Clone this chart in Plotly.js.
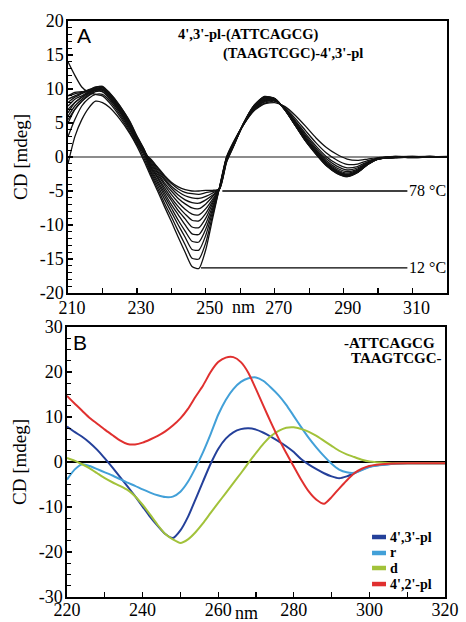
<!DOCTYPE html>
<html><head><meta charset="utf-8">
<script src="https://cdn.plot.ly/plotly-3.0.1.min.js"></script>
<style>html,body{margin:0;padding:0;background:#fff}#chart{width:466px;height:622px}</style>
</head><body><div id="chart"></div>
<script>
// ---------- Panel A: temperature series (12 °C ... 78 °C) ----------
const wlA = [210,212,214,216,218,220,222,225,228,230,232,234,236,238,240,242,244,246,248,250,252,254,256,258,261,264,267,270,273,276,279,282,285,288,291,294,297,300,305,310,315,320];
const cdA01 = [-1,3,5.5,7.2,8.2,8.0,7.3,5.6,3.4,1.6,-0.5,-2.8,-5.0,-7.3,-9.5,-11.8,-14.0,-16.1,-16.4,-13.6,-9.0,-4.4,0,2.2,4.8,6.8,7.8,8.0,7.4,6.1,4.5,2.8,1.4,0.4,-0.3,-0.5,-0.3,-0.1,0.1,0,0.1,0];
const cdA02 = [3,5.5,7.5,8.6,9.2,9.2,8.3,6.3,3.9,2.0,-0.1,-2.5,-4.6,-6.8,-8.8,-10.9,-12.9,-14.9,-15.0,-12.6,-8.5,-4.45,-0.1,2.1,4.8,6.9,7.9,8.2,7.25,5.65,3.84,2.08,0.59,-0.44,-1.08,-1.04,-0.54,-0.16,0,0.1,0,0.05];
const cdA03 = [5,7,8.2,9,9.6,9.6,8.7,6.7,4.3,2.3,0.3,-2.2,-4.2,-6.2,-8.1,-10.0,-11.8,-13.6,-13.7,-11.5,-8.0,-4.5,-0.15,2.0,4.8,7.0,8.06,8.3,7.15,5.35,3.4,1.6,0.05,-1.0,-1.6,-1.4,-0.7,-0.2,-0.1,0,0.05,0];
const cdA04 = [8,8.8,9.3,9.8,10.3,10.3,9.3,7.3,4.8,2.7,0.7,-2.0,-3.8,-5.7,-7.5,-9.3,-10.9,-12.4,-12.5,-10.6,-7.6,-4.5,-0.2,1.95,4.85,7.07,8.17,8.37,7.09,5.17,3.14,1.31,-0.27,-1.34,-1.91,-1.62,-0.8,-0.22,0,-0.1,0,0.1];
const cdA05 = [6,7.5,8.5,9.3,10,10.2,9.2,7.3,4.9,2.9,1.0,-1.7,-3.5,-5.3,-7.0,-8.5,-10.0,-11.3,-11.4,-9.8,-7.2,-4.55,-0.3,1.9,4.85,7.15,8.28,8.43,7.04,5.02,2.92,1.07,-0.54,-1.62,-2.17,-1.8,-0.88,-0.24,0.1,0,-0.05,0];
const cdA06 = [7,8,8.8,9.5,10,10,9,7.0,4.6,2.6,0.9,-1.5,-3.1,-4.9,-6.4,-7.9,-9.1,-10.3,-10.4,-9.0,-6.8,-4.55,-0.35,1.85,4.9,7.22,8.38,8.48,7.0,4.9,2.74,0.88,-0.76,-1.84,-2.38,-1.94,-0.94,-0.26,-0.1,0.05,0.1,0];
const cdA07 = [9,9.3,9.5,9.9,10.2,10.4,9.5,7.6,5.1,3.0,1.2,-1.3,-2.9,-4.5,-6.0,-7.3,-8.4,-9.3,-9.4,-8.3,-6.5,-4.6,-0.4,1.8,4.9,7.29,8.47,8.52,6.97,4.81,2.61,0.74,-0.92,-2.01,-2.54,-2.05,-0.99,-0.27,0,-0.05,0,0.05];
const cdA08 = [5.5,7,8.2,9.1,9.8,10,9.1,7.2,4.8,2.8,1.0,-1.1,-2.6,-4.1,-5.5,-6.7,-7.7,-8.4,-8.5,-7.6,-6.2,-4.6,-0.45,1.75,4.9,7.35,8.56,8.54,6.95,4.75,2.52,0.64,-1.03,-2.12,-2.64,-2.12,-1.02,-0.28,-0.05,0,0.05,0];
const cdA09 = [8.5,9,9.4,9.8,10.1,10.2,9.4,7.5,5.2,3.1,1.2,-0.9,-2.3,-3.8,-5.0,-6.1,-6.9,-7.5,-7.6,-6.9,-5.8,-4.6,-0.5,1.7,4.95,7.42,8.65,8.56,6.94,4.7,2.45,0.57,-1.11,-2.2,-2.72,-2.17,-1.04,-0.29,0.05,0.1,0,0];
const cdA10 = [7.5,8.5,9,9.6,9.9,9.9,9,7.1,4.8,2.8,1.0,-0.7,-2.1,-3.4,-4.6,-5.6,-6.3,-6.7,-6.8,-6.3,-5.6,-4.65,-0.55,1.65,4.95,7.47,8.72,8.57,6.93,4.67,2.41,0.52,-1.17,-2.26,-2.77,-2.21,-1.06,-0.29,0,0,-0.05,0.05];
const cdA11 = [6.5,8,8.8,9.4,9.8,9.8,8.9,6.9,4.5,2.5,0.9,-0.55,-1.85,-3.2,-4.3,-5.1,-5.7,-6.0,-6.1,-5.8,-5.3,-4.65,-0.6,1.6,5.0,7.52,8.79,8.58,6.92,4.64,2.37,0.47,-1.22,-2.32,-2.82,-2.25,-1.08,-0.3,-0.1,0,0.1,0];
const cdA12 = [9,9.5,9.6,9.8,9.9,9.6,8.6,6.6,4.1,2.2,0.8,-0.4,-1.6,-2.9,-3.9,-4.7,-5.2,-5.4,-5.5,-5.25,-5.06,-4.7,-0.7,1.55,5.0,7.57,8.86,8.59,6.9,4.61,2.32,0.42,-1.27,-2.37,-2.87,-2.28,-1.09,-0.3,0,-0.1,0,0];
const cdA13 = [14,12,10.3,9.5,9.2,9.0,8.0,6.0,3.6,1.8,0.6,-0.3,-1.5,-2.7,-3.7,-4.4,-4.8,-5.0,-5.0,-4.9,-4.9,-4.7,-0.8,1.5,5.0,7.6,8.9,8.6,6.9,4.6,2.3,0.4,-1.3,-2.4,-2.9,-2.3,-1.1,-0.3,-0.1,0,0.05,0];
const seriesA = [cdA01,cdA02,cdA03,cdA04,cdA05,cdA06,cdA07,cdA08,cdA09,cdA10,cdA11,cdA12,cdA13];
const tempLabels = ['78 °C', '12 °C'];
const tempLevels = [-5.0, -16.3];
const tempStarts = [254.8, 248.6];

// ---------- Panel B ----------
const wlB = [220,222,224,226,228,230,232,234,236,238,240,242,244,246,248,250,252,254,256,258,260,262,264,266,268,270,272,274,276,278,280,282,284,286,288,290,292,294,296,298,300,305,310,315,320];
const cd43pl = [7.9,6.7,5.6,4.3,2.7,0.8,-1.2,-3.3,-5.4,-7.6,-9.9,-12.2,-14.2,-16.0,-16.9,-15.2,-12.2,-8.3,-4.3,-0.4,2.9,5.2,6.6,7.3,7.5,7.2,6.5,5.6,4.6,3.5,2.2,0.6,-0.6,-1.6,-2.5,-3.2,-3.6,-3.2,-2.5,-1.7,-1.0,-0.5,-0.3,-0.3,-0.3];
const cdR = [-3.9,-1.7,-0.5,-0.9,-1.6,-2.3,-3.0,-3.8,-4.6,-5.3,-6.1,-6.8,-7.4,-7.8,-7.7,-6.6,-4.4,-1.3,2.2,6.2,10.5,13.8,16.2,17.8,18.6,18.8,18.0,16.5,14.8,12.7,10.2,7.7,5.3,3.2,1.3,-0.4,-1.7,-2.3,-2.4,-1.8,-1.1,-0.5,-0.3,-0.3,-0.3];
const cdD = [0.9,0.3,-0.5,-1.4,-2.5,-3.6,-4.5,-5.3,-6.2,-7.6,-9.5,-11.7,-14.0,-16.0,-17.2,-18.0,-17.2,-15.6,-13.6,-11.3,-9.1,-6.9,-4.7,-2.5,-0.2,2.0,4.1,5.8,6.9,7.6,7.7,7.3,6.7,5.8,4.7,3.6,2.5,1.7,1.1,0.5,0.1,-0.2,-0.3,-0.3,-0.3];
const cd42pl = [14.7,13.0,11.4,9.8,8.5,7.2,6.0,4.8,4.0,3.9,4.3,5.0,5.8,6.8,8.1,9.7,11.8,14.5,17.0,20.0,22.2,23.2,23.3,22.2,19.8,16.2,12.4,8.7,5.2,2.0,-1.0,-4.0,-6.6,-8.4,-9.3,-7.8,-5.9,-4.1,-2.5,-1.5,-0.9,-0.4,-0.3,-0.3,-0.3];
const seriesB = [cd43pl, cdR, cdD, cd42pl];
const namesB = ["4',3'-pl", 'r', 'd', "4',2'-pl"];
const colorsB = ['#24409a', '#42a0d8', '#a2c23a', '#e0302f'];

// tick labels
const yTicksA = [-20,-15,-10,-5,0,5,10,15,20];
const yTickTextA = ['-20','-15','-10','-5','0','5','10','15','20'];
const yTicksB = [-30,-20,-10,0,10,20,30];
const yTickTextB = ['-30','-20','-10','0','10','20','30'];
const xTicksA = [210,230,250,270,290,310];
const xTicksB = [220,240,260,280,300,320];

// ---------- traces ----------
const traces = [];
seriesA.forEach(function (ys) {
  traces.push({x: wlA, y: ys, xaxis: 'x', yaxis: 'y', type: 'scatter', mode: 'lines',
    line: {color: '#111', width: 1.3, shape: 'spline', smoothing: 0.6}, hoverinfo: 'skip'});
});
seriesB.forEach(function (ys, i) {
  traces.push({x: wlB, y: ys, xaxis: 'x2', yaxis: 'y2', type: 'scatter', mode: 'lines', name: namesB[i],
    line: {color: colorsB[i], width: 2, shape: 'spline', smoothing: 0.6}});
});

const serif = '"Liberation Serif", "Times New Roman", serif';
const sans = '"Liberation Sans", Arial, sans-serif';
const tickCommon = {ticks: 'inside', ticklen: 5, tickwidth: 1.3, tickcolor: '#000',
  showline: true, mirror: true, linewidth: 1.6, linecolor: '#000', showgrid: false,
  tickfont: {family: serif, size: 18, color: '#000'}};

const shapes = [];
const annotations = [];
tempLabels.forEach(function (t, i) {
  shapes.push({type: 'line', xref: 'x', yref: 'y', x0: tempStarts[i], x1: 308.5, y0: tempLevels[i], y1: tempLevels[i],
    line: {color: '#000', width: 1.4}});
  annotations.push({xref: 'x', yref: 'y', x: 308.3, y: tempLevels[i], text: t, showarrow: false,
    xanchor: 'left', yanchor: 'middle', font: {family: serif, size: 16, color: '#000'}});
});
const legY = [0.2222, 0.163, 0.1074, 0.048];
namesB.forEach(function (n, i) {
  shapes.push({type: 'line', xref: 'x2 domain', yref: 'y2 domain', x0: 0.807, x1: 0.844, y0: legY[i], y1: legY[i],
    line: {color: colorsB[i], width: 4.5}});
  annotations.push({xref: 'x2 domain', yref: 'y2 domain', x: 0.853, y: legY[i], text: '<b>' + n + '</b>', showarrow: false,
    xanchor: 'left', yanchor: 'middle', borderpad: 0, font: {family: serif, size: 14, color: '#000'}});
});
annotations.push(
  {xref: 'x domain', yref: 'y domain', x: 0.018, y: 0.945, text: 'A', showarrow: false, xanchor: 'left', yanchor: 'middle',
    font: {family: sans, size: 21, color: '#000'}},
  {xref: 'x domain', yref: 'y domain', x: 0.285, y: 0.949, text: "<b>4',3'-pl-(ATTCAGCG)</b>", showarrow: false, xanchor: 'left', yanchor: 'middle',
    font: {family: serif, size: 14.5, color: '#000'}},
  {xref: 'x domain', yref: 'y domain', x: 0.404, y: 0.882, text: "<b>(TAAGTCGC)-4',3'-pl</b>", showarrow: false, xanchor: 'left', yanchor: 'middle',
    font: {family: serif, size: 14.5, color: '#000'}},
  {xref: 'x', yref: 'y domain', x: 260.8, y: -0.052, text: 'nm', showarrow: false, xanchor: 'center', yanchor: 'middle',
    font: {family: serif, size: 18, color: '#000'}},
  {xref: 'x2 domain', yref: 'y2 domain', x: 0.01, y: 0.943, text: 'B', showarrow: false, xanchor: 'left', yanchor: 'middle',
    font: {family: sans, size: 21, color: '#000'}},
  {xref: 'x2 domain', yref: 'y2 domain', x: 0.978, y: 0.941, text: '<b>-ATTCAGCG</b>', showarrow: false, xanchor: 'right', yanchor: 'middle',
    font: {family: serif, size: 15, color: '#000'}},
  {xref: 'x2 domain', yref: 'y2 domain', x: 0.998, y: 0.885, text: '<b>TAAGTCGC-</b>', showarrow: false, xanchor: 'right', yanchor: 'middle',
    font: {family: serif, size: 15, color: '#000'}},
  {xref: 'x2', yref: 'y2 domain', x: 267.5, y: -0.06, text: 'nm', showarrow: false, xanchor: 'center', yanchor: 'middle',
    font: {family: serif, size: 18, color: '#000'}}
);

const layout = {
  width: 466, height: 622,
  margin: {l: 67, r: 19, t: 21, b: 25},
  paper_bgcolor: '#fff', plot_bgcolor: '#fff',
  font: {family: serif, size: 18, color: '#000'},
  showlegend: false,
  xaxis: Object.assign({}, tickCommon, {domain: [0.0026, 1], range: [210, 320], anchor: 'y',
    tickmode: 'array', tickvals: xTicksA, ticktext: xTicksA.map(String), ticklabelshift: 4, ticklabelstandoff: -2,
    minor: {tickmode: 'linear', tick0: 210, dtick: 10, ticks: 'inside', ticklen: 5, tickwidth: 1.3, tickcolor: '#000'},
    zeroline: false}),
  yaxis: Object.assign({}, tickCommon, {domain: [0.5278, 1], range: [-20, 20], anchor: 'x',
    tickmode: 'array', tickvals: yTicksA, ticktext: yTickTextA, ticklabelstandoff: -1,
    minor: {tickmode: 'linear', tick0: 0, dtick: 1, ticks: 'inside', ticklen: 4, tickwidth: 1.1, tickcolor: '#000'},
    zeroline: true, zerolinecolor: '#8c8c8c', zerolinewidth: 1.2,
    title: {text: 'CD [mdeg]', font: {family: serif, size: 19, color: '#000'}, standoff: 7}}),
  xaxis2: Object.assign({}, tickCommon, {domain: [0, 0.9947], range: [220, 320], anchor: 'y2',
    tickmode: 'array', tickvals: xTicksB, ticktext: xTicksB.map(String), ticklabelstandoff: -4,
    minor: {tickmode: 'linear', tick0: 220, dtick: 10, ticks: 'inside', ticklen: 5, tickwidth: 1.3, tickcolor: '#000'},
    zeroline: false}),
  yaxis2: Object.assign({}, tickCommon, {domain: [0, 0.46875], range: [-30, 30], anchor: 'x2',
    tickmode: 'array', tickvals: yTicksB, ticktext: yTickTextB, ticklabelstandoff: -1,
    minor: {tickmode: 'linear', tick0: 0, dtick: 2.5, ticks: 'inside', ticklen: 4, tickwidth: 1.1, tickcolor: '#000'},
    zeroline: true, zerolinecolor: '#000', zerolinewidth: 1.2,
    title: {text: 'CD [mdeg]', font: {family: serif, size: 19, color: '#000'}, standoff: 7}}),
  shapes: shapes,
  annotations: annotations
};

Plotly.newPlot('chart', traces, layout, {displayModeBar: false, staticPlot: true});
</script>
</body></html>
